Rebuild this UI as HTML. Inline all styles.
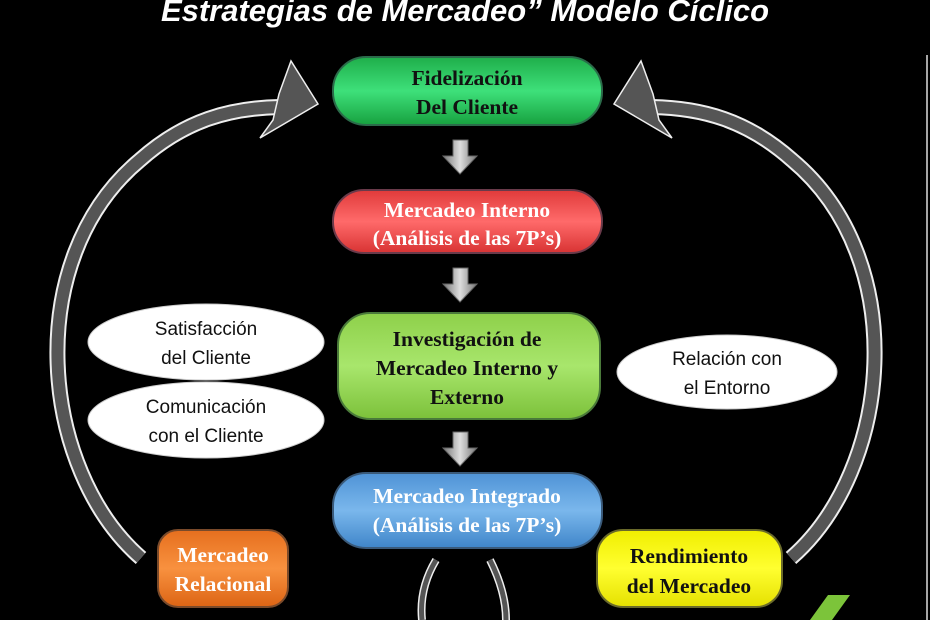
<!DOCTYPE html>
<html><head><meta charset="utf-8"><style>
html,body{margin:0;padding:0;background:#000;}
svg{display:block}
.s{font-family:"Liberation Serif",serif;font-weight:bold;font-size:21.5px;text-anchor:middle}
.c{font-family:"Liberation Sans","DejaVu Sans",sans-serif;font-size:19px;text-anchor:middle;fill:#111}
</style></head><body>
<svg width="930" height="620" viewBox="0 0 930 620" xmlns="http://www.w3.org/2000/svg">
<defs>
<linearGradient id="gG" x1="0" y1="0" x2="0" y2="1"><stop offset="0" stop-color="#1fae4a"/><stop offset=".5" stop-color="#3ee07a"/><stop offset="1" stop-color="#17a13f"/></linearGradient>
<linearGradient id="gR" x1="0" y1="0" x2="0" y2="1"><stop offset="0" stop-color="#e03a3a"/><stop offset=".5" stop-color="#ff6a6a"/><stop offset="1" stop-color="#d83333"/></linearGradient>
<linearGradient id="gL" x1="0" y1="0" x2="0" y2="1"><stop offset="0" stop-color="#8ed04a"/><stop offset=".5" stop-color="#a8e66c"/><stop offset="1" stop-color="#7cc13a"/></linearGradient>
<linearGradient id="gB" x1="0" y1="0" x2="0" y2="1"><stop offset="0" stop-color="#4f93d6"/><stop offset=".5" stop-color="#7ab7ec"/><stop offset="1" stop-color="#3f85c9"/></linearGradient>
<linearGradient id="gO" x1="0" y1="0" x2="0" y2="1"><stop offset="0" stop-color="#e66f1e"/><stop offset=".5" stop-color="#f8913f"/><stop offset="1" stop-color="#dc6414"/></linearGradient>
<linearGradient id="gY" x1="0" y1="0" x2="0" y2="1"><stop offset="0" stop-color="#f0ee00"/><stop offset=".5" stop-color="#ffff30"/><stop offset="1" stop-color="#e5e000"/></linearGradient>
<linearGradient id="gA" x1="0" y1="0" x2="1" y2="0"><stop offset="0" stop-color="#777"/><stop offset=".5" stop-color="#ddd"/><stop offset="1" stop-color="#777"/></linearGradient>
</defs>
<text x="465" y="21" fill="#fff" font-family="Liberation Sans,sans-serif" font-weight="bold" font-style="italic" font-size="31" text-anchor="middle">Estrategias de Mercadeo” Modelo Cíclico</text>
<line x1="927" y1="55" x2="927" y2="620" stroke="#ddd" stroke-width="1.5"/>

<g id="la">
<path d="M141,558 C40,470 20,260 140,160 C185,120 230,108 280,107" fill="none" stroke="#eee" stroke-width="16"/>
<path d="M141,558 C40,470 20,260 140,160 C185,120 230,108 280,107" fill="none" stroke="#555" stroke-width="12"/>
<polygon points="279,94 291,61 318,104 260,138 273,120" fill="#555" stroke="#eee" stroke-width="1.5"/>
</g>
<g transform="translate(932,0) scale(-1,1)">
<path d="M141,558 C40,470 20,260 140,160 C185,120 230,108 280,107" fill="none" stroke="#eee" stroke-width="16"/>
<path d="M141,558 C40,470 20,260 140,160 C185,120 230,108 280,107" fill="none" stroke="#555" stroke-width="12"/>
<polygon points="279,94 291,61 318,104 260,138 273,120" fill="#555" stroke="#eee" stroke-width="1.5"/>
</g>

<path d="M436,560 C424,580 420,600 422,620" fill="none" stroke="#eee" stroke-width="8"/>
<path d="M436,560 C424,580 420,600 422,620" fill="none" stroke="#555" stroke-width="5"/>
<path d="M490,560 C500,580 506,600 506,620" fill="none" stroke="#eee" stroke-width="8"/>
<path d="M490,560 C500,580 506,600 506,620" fill="none" stroke="#555" stroke-width="5"/>

<g fill="url(#gA)" stroke="#666" stroke-width="1">
<polygon points="453,140 468,140 468,156 477,156 460,174 443,156 453,156"/>
<polygon points="453,268 468,268 468,284 477,284 460,302 443,284 453,284"/>
<polygon points="453,432 468,432 468,448 477,448 460,466 443,448 453,448"/>
</g>

<rect x="333" y="57" width="269" height="68" rx="33" fill="url(#gG)" stroke="#2b6b4a" stroke-width="2"/>
<text class="s" x="467" y="85" fill="#111">Fidelización</text>
<text class="s" x="467" y="114" fill="#111">Del Cliente</text>

<rect x="333" y="190" width="269" height="63" rx="31" fill="url(#gR)" stroke="#6a3a4a" stroke-width="2"/>
<text class="s" x="467" y="217" fill="#fff">Mercadeo Interno</text>
<text class="s" x="467" y="245" fill="#fff">(Análisis de las 7P’s)</text>

<rect x="338" y="313" width="262" height="106" rx="32" fill="url(#gL)" stroke="#4a7a3a" stroke-width="2"/>
<text class="s" x="467" y="346" fill="#111">Investigación de</text>
<text class="s" x="467" y="375" fill="#111">Mercadeo Interno y</text>
<text class="s" x="467" y="404" fill="#111">Externo</text>

<rect x="333" y="473" width="269" height="75" rx="33" fill="url(#gB)" stroke="#3a5a7a" stroke-width="2"/>
<text class="s" x="467" y="503" fill="#fff">Mercadeo Integrado</text>
<text class="s" x="467" y="532" fill="#fff">(Análisis de las 7P’s)</text>

<rect x="158" y="530" width="130" height="77" rx="20" fill="url(#gO)" stroke="#7a4a2a" stroke-width="2"/>
<text class="s" x="223" y="562" fill="#fff">Mercadeo</text>
<text class="s" x="223" y="591" fill="#fff">Relacional</text>

<rect x="597" y="530" width="185" height="77" rx="26" fill="url(#gY)" stroke="#6a6a2a" stroke-width="2"/>
<text class="s" x="689" y="563" fill="#111">Rendimiento</text>
<text class="s" x="689" y="593" fill="#111">del Mercadeo</text>

<ellipse cx="206" cy="342" rx="118" ry="38" fill="#fff" stroke="#ccc"/>
<text class="c" x="206" y="335">Satisfacción</text>
<text class="c" x="206" y="364">del Cliente</text>
<ellipse cx="206" cy="420" rx="118" ry="38" fill="#fff" stroke="#ccc"/>
<text class="c" x="206" y="413">Comunicación</text>
<text class="c" x="206" y="442">con el Cliente</text>
<ellipse cx="727" cy="372" rx="110" ry="37" fill="#fff" stroke="#ccc"/>
<text class="c" x="727" y="365">Relación con</text>
<text class="c" x="727" y="394">el Entorno</text>

<polygon points="828,595 850,595 832,620 810,620" fill="#7cc43a"/>
</svg>
</body></html>
